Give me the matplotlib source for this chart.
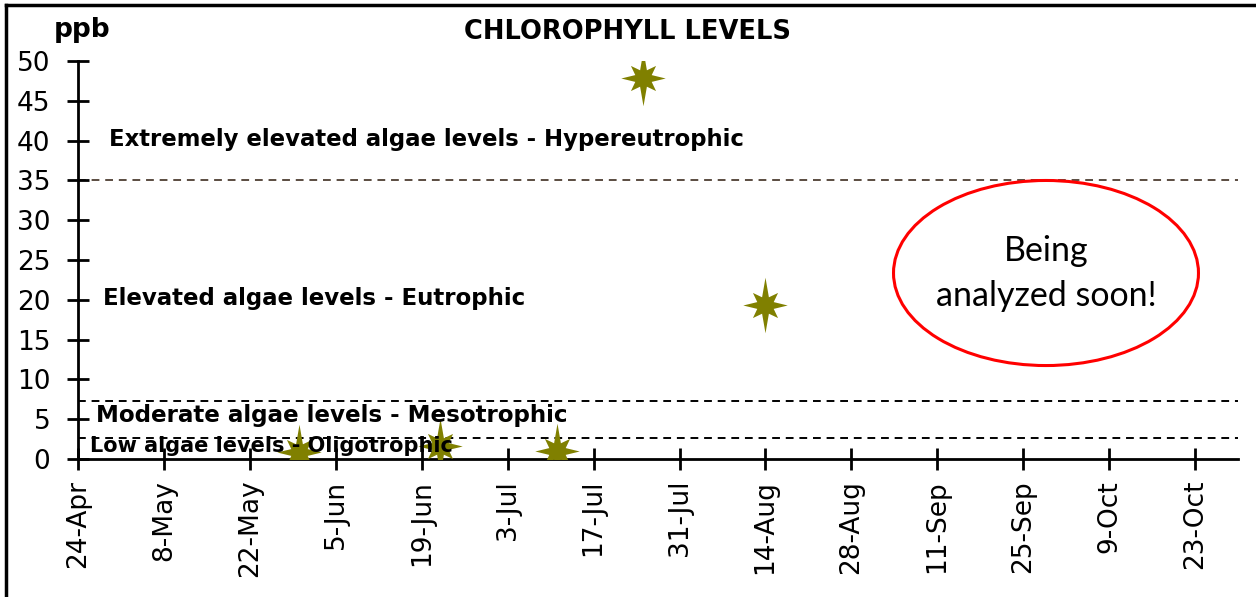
import numpy as np
import pandas as pd
import matplotlib
matplotlib.use('Agg')
import matplotlib.pyplot as plt
from matplotlib.path import Path
from matplotlib.patches import Ellipse
from matplotlib.lines import Line2D

# sample dates and chlorophyll readings (ppb)
dates = pd.to_datetime(['2022-05-30', '2022-06-22', '2022-07-11', '2022-07-25', '2022-08-14'])
chl = [0.9, 1.6, 1.0, 47.9, 19.3]

# trophic thresholds and labels
thresholds = [2.6, 7.3, 35]
threshold_colors = ['black', 'black', '#5a4c40']
zone_labels = ['Low algae levels - Oligotrophic',
               'Moderate algae levels - Mesotrophic',
               'Elevated algae levels - Eutrophic',
               'Extremely elevated algae levels - Hypereutrophic']
zone_label_y = [1.6, 5.4, 20.2, 40.2]
zone_label_x = pd.to_datetime(['2022-04-26', '2022-04-27', '2022-04-28', '2022-04-29'])
zone_label_size = [15, 16.6, 16.5, 16.4]

x_start = pd.Timestamp('2022-04-24')
x_end = pd.Timestamp('2022-10-30')

# 8 point star marker, long vertical spikes
angles = np.arange(16) * np.pi / 8
radii = []
for k in range(16):
    if k % 2 == 1:
        radii.append(0.32)
    elif k % 8 == 4:
        radii.append(1.0)   # vertical
    elif k % 8 == 0:
        radii.append(0.8)   # horizontal
    else:
        radii.append(0.64)  # diagonal
verts = [(r * np.cos(a), r * np.sin(a)) for r, a in zip(radii, angles)]
verts.append(verts[0])
star = Path(verts, closed=True)

fig = plt.figure(figsize=(12.56, 5.97), dpi=100)
ax = fig.add_axes([0.0621, 0.2312, 0.9236, 0.6666])

for y, c in zip(thresholds, threshold_colors):
    ax.axhline(y, color=c, lw=1.4, ls=(0, (4, 3)), zorder=1)

ax.plot(dates, chl, ls='none', marker=star, markersize=40,
        color='#808000', markeredgewidth=0, zorder=3)

for lab, x, y, s in zip(zone_labels, zone_label_x, zone_label_y, zone_label_size):
    ax.text(x, y, lab, fontsize=s, fontweight='bold', va='center', ha='left', zorder=4)

ax.set_xlim(x_start, x_end)
ax.set_ylim(0, 50)
ax.set_yticks(range(0, 51, 5))
ticks = pd.date_range(x_start, pd.Timestamp('2022-10-23'), freq='14D')
ax.set_xticks(ticks)
ax.set_xticklabels([f'{d.day}-{d.strftime("%b")}' for d in ticks], rotation=90)

for s in ['top', 'right']:
    ax.spines[s].set_visible(False)
for s in ['left', 'bottom']:
    ax.spines[s].set_linewidth(2)
ax.tick_params(axis='both', direction='inout', length=16, width=2, labelsize=19)
ax.tick_params(axis='y', pad=12)
ax.tick_params(axis='x', pad=7)

fig.text(0.5, 0.946, 'CHLOROPHYLL LEVELS', ha='center', va='center',
         fontsize=18.5, fontweight='bold')
fig.text(0.0425, 0.95, 'ppb', ha='left', va='center', fontsize=19, fontweight='bold')

ell = Ellipse((0.8328, 0.5427), 0.2428, 0.310, transform=fig.transFigure,
              facecolor='none', edgecolor='red', lw=2.2)
fig.patches.append(ell)
fig.text(0.8328, 0.5427, 'Being\nanalyzed soon!', ha='center', va='center',
         fontsize=24.5, family='Lato', linespacing=1.5)

# figure border, left and top only
fig.add_artist(Line2D([0.005, 0.005], [0, 0.992], transform=fig.transFigure, color='black', lw=2.5))
fig.add_artist(Line2D([0.005, 1], [0.992, 0.992], transform=fig.transFigure, color='black', lw=2.5))

fig.savefig('out.png', dpi=100)
